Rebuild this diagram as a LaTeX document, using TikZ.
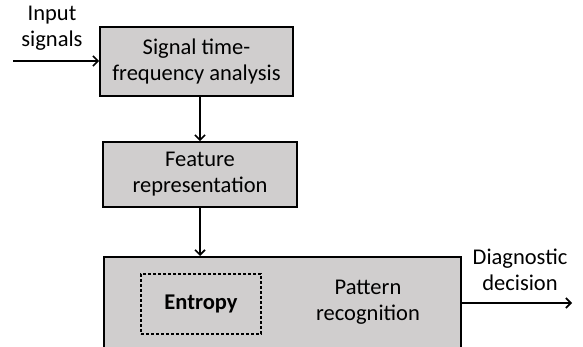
\documentclass[tikz,border=0pt]{standalone}
\usepackage{fontspec}
\setmainfont{Carlito}
\usetikzlibrary{arrows.meta}
\definecolor{boxgray}{RGB}{208,206,206}
\begin{document}
\begin{tikzpicture}[x=1pt,y=-1pt,
  txt/.style={font=\fontsize{22.5}{26}\selectfont, align=center, inner sep=0pt},
  block/.style={txt, draw=black, line width=1.9pt, fill=boxgray},
  arr/.style={line width=1.6pt, -{Straight Barb[length=5pt,width=10pt,line width=1.6pt]}}]
  \useasboundingbox (0,0) rectangle (583,347);
  \clip (0,0) rectangle (583,347);

  % processing blocks
  \node[block, minimum width=193pt, minimum height=69pt] (sig) at (196.5,61.5)
    {Signal time-\\frequency analysis};
  \node[block, minimum width=194pt, minimum height=65pt] (feat) at (200,174.5)
    {Feature\\representation};
  \node[block, minimum width=357pt, minimum height=150pt, anchor=north west] (pr) at (103,256) {};
  \node[txt] (prtext) at (368,302) {Pattern\\recognition};
  \node[txt, draw=black, line width=1.1pt, dash pattern=on 3pt off 2pt,
        minimum width=120pt, minimum height=60pt, font=\fontsize{22.5}{26}\selectfont\bfseries]
        (ent) at (201,304) {Entropy};

  % external labels
  \node[txt] (inlab) at (52,28) {Input\\signals};
  \node[txt] (outlab) at (520,270) {Diagnostic\\decision};
  \coordinate (in) at (13,61);
  \coordinate (out) at (572,303);

  % connectors
  \draw[arr] (in) -- (in -| sig.west);
  \draw[arr] (sig.south -| feat.north) -- (feat.north);
  \draw[arr] (feat.south) -- (feat.south |- pr.north);
  \draw[arr] (out -| pr.east) -- (out);
\end{tikzpicture}
\end{document}
